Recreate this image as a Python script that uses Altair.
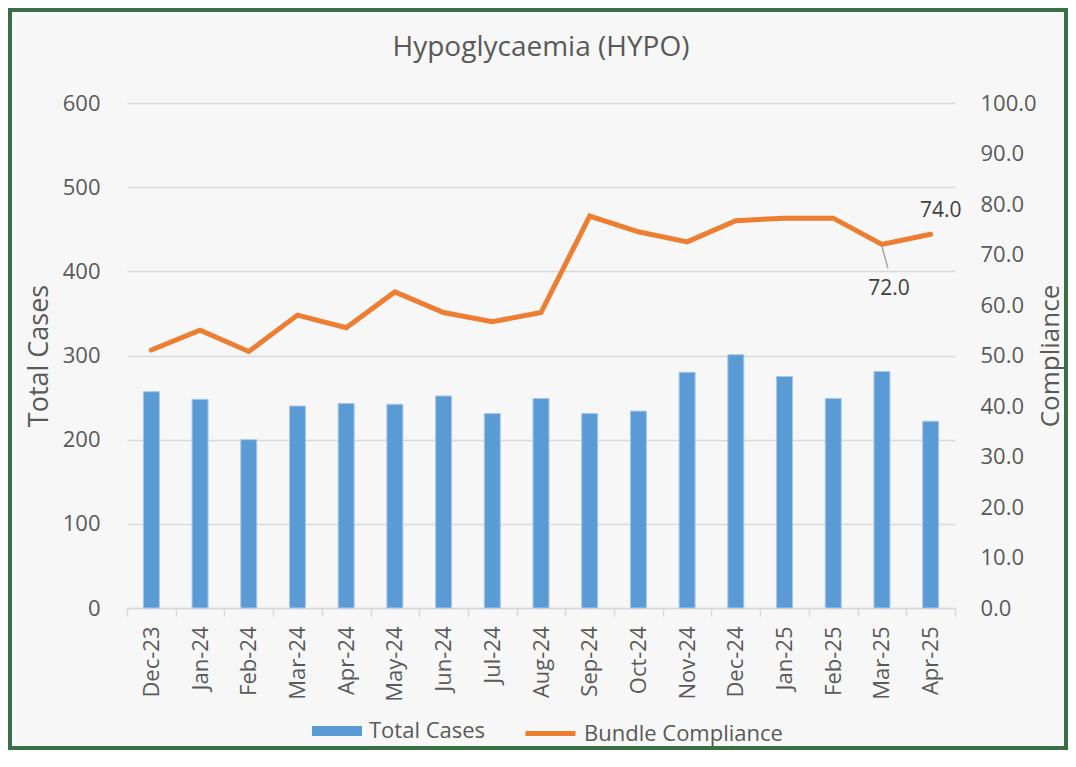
import altair as alt
import pandas as pd

months = ["Dec-23", "Jan-24", "Feb-24", "Mar-24", "Apr-24", "May-24", "Jun-24",
          "Jul-24", "Aug-24", "Sep-24", "Oct-24", "Nov-24", "Dec-24", "Jan-25",
          "Feb-25", "Mar-25", "Apr-25"]
total_cases = [257, 248, 200, 240, 243, 242, 252, 231, 249, 231, 234, 280, 301,
               275, 249, 281, 222]
compliance = [51.1, 55.0, 50.8, 58.0, 55.5, 62.6, 58.5, 56.7, 58.5, 77.6, 74.5,
              72.5, 76.7, 77.2, 77.2, 72.0, 74.0]
label_below = ["Mar-25"]
label_above = ["Apr-25"]

FONT = "Open Sans"
GREY = "#595959"
BLUE = "#5B9BD5"
ORANGE = "#ED7D31"
GRID = "#d9d9d9"
TICK_FS = 22

df = pd.DataFrame({"month": months, "cases": total_cases, "compliance": compliance})

W, H = 828, 505
PAD = {"left": 119, "top": 95, "right": 113, "bottom": 142}

x_enc = alt.X(
    "month:N", sort=months, title=None,
    scale=alt.Scale(paddingInner=0, paddingOuter=0),
    axis=alt.Axis(labelAngle=270, labelFontSize=TICK_FS, labelColor=GREY, labelFont=FONT,
                  domainColor=GRID, domainWidth=1.5, tickColor=GRID, tickWidth=1.5,
                  tickSize=8, tickBand="extent", labelPadding=10, grid=False),
)

bars = alt.Chart(df).transform_calculate(series="'Total Cases'").mark_bar(
    size=16, stroke="#a8c8ea", strokeWidth=1
).encode(
    x=x_enc,
    y=alt.Y("cases:Q", scale=alt.Scale(domain=[0, 600]), title="Total Cases",
            axis=alt.Axis(orient="left", values=list(range(0, 601, 100)), grid=True,
                          gridColor=GRID, gridWidth=1.5, domain=False, ticks=False,
                          tickSize=0, labelPadding=27, labelFontSize=TICK_FS, labelColor=GREY,
                          labelFont=FONT, titleFontSize=27, titleColor=GREY,
                          titleFont=FONT, titleFontWeight="normal", titleX=-88,
                          titleY=H / 2, titleAngle=270, titleBaseline="middle",
                          titleAlign="center")),
    fill=alt.Fill("series:N", scale=alt.Scale(domain=["Total Cases"], range=[BLUE]),
                  legend=alt.Legend(title=None, orient="none", legendX=185, legendY=603,
                                    symbolType="M-1,-0.2H1V0.2H-1Z", symbolSize=2500,
                                    symbolStrokeWidth=0, labelOffset=7, labelLimit=400,
                                    labelFontSize=TICK_FS, labelColor=GREY, labelFont=FONT)),
)

y_right = alt.Y("compliance:Q", scale=alt.Scale(domain=[0, 100]), title="Compliance",
                axis=alt.Axis(orient="right", values=list(range(0, 101, 10)), format=".1f",
                              grid=False, domain=False, ticks=False, tickSize=0,
                              labelPadding=25, labelFontSize=TICK_FS, labelColor=GREY,
                              labelFont=FONT, titleFontSize=26, titleColor=GREY,
                              titleFont=FONT, titleFontWeight="normal", titleX=95,
                              titleY=H / 2, titleAngle=270, titleBaseline="middle",
                              titleAlign="center"))

line = alt.Chart(df).transform_calculate(series="'Bundle Compliance'").mark_line(
    strokeWidth=5, strokeCap="round"
).encode(
    x=x_enc,
    y=y_right,
    stroke=alt.Stroke("series:N", scale=alt.Scale(domain=["Bundle Compliance"], range=[ORANGE]),
                      legend=alt.Legend(title=None, orient="none", legendX=396, legendY=603,
                                        symbolType="stroke", symbolSize=2500,
                                        symbolStrokeWidth=5, labelOffset=6, labelLimit=400,
                                        labelFontSize=TICK_FS, labelColor=GREY, labelFont=FONT)),
)

leader = alt.Chart(df).transform_filter(
    alt.FieldOneOfPredicate(field="month", oneOf=label_below)
).mark_rule(color="#a6a6a6", strokeWidth=1.5, yOffset=2, y2Offset=24, x2Offset=6).encode(
    x=alt.X("month:N", sort=months),
    x2=alt.X2("month"),
    y=alt.Y("compliance:Q"),
    y2=alt.Y2("compliance"),
)

txt_below = alt.Chart(df).transform_filter(
    alt.FieldOneOfPredicate(field="month", oneOf=label_below)
).mark_text(fontSize=21, font=FONT, color="#404040", dx=7, dy=45).encode(
    x=alt.X("month:N", sort=months),
    y=alt.Y("compliance:Q"),
    text=alt.Text("compliance:Q", format=".1f"),
)

txt_above = alt.Chart(df).transform_filter(
    alt.FieldOneOfPredicate(field="month", oneOf=label_above)
).mark_text(fontSize=21, font=FONT, color="#404040", dx=10, dy=-23).encode(
    x=alt.X("month:N", sort=months),
    y=alt.Y("compliance:Q"),
    text=alt.Text("compliance:Q", format=".1f"),
)

right_layer = alt.layer(line, leader, txt_below, txt_above)

border = alt.Chart(pd.DataFrame({"k": [0]})).mark_rect(
    fillOpacity=0, stroke="#3b6e45", strokeWidth=4
).encode(
    x=alt.value(-PAD["left"] + 2), x2=alt.value(W + PAD["right"] - 2),
    y=alt.value(-PAD["top"] + 2), y2=alt.value(H + PAD["bottom"] - 2),
)

chart = alt.layer(bars, right_layer, border).resolve_scale(
    y="independent"
).properties(
    width=W, height=H,
    autosize=alt.AutoSizeParams(type="none"),
    padding=PAD,
    background="#f7f7f7",
    title=alt.TitleParams("Hypoglycaemia (HYPO)", fontSize=28, font=FONT,
                          fontWeight="normal", color=GREY, anchor="middle", offset=-54),
).configure_view(stroke=None)

chart.save("out.html", embed_options={"renderer": "svg", "actions": False})
